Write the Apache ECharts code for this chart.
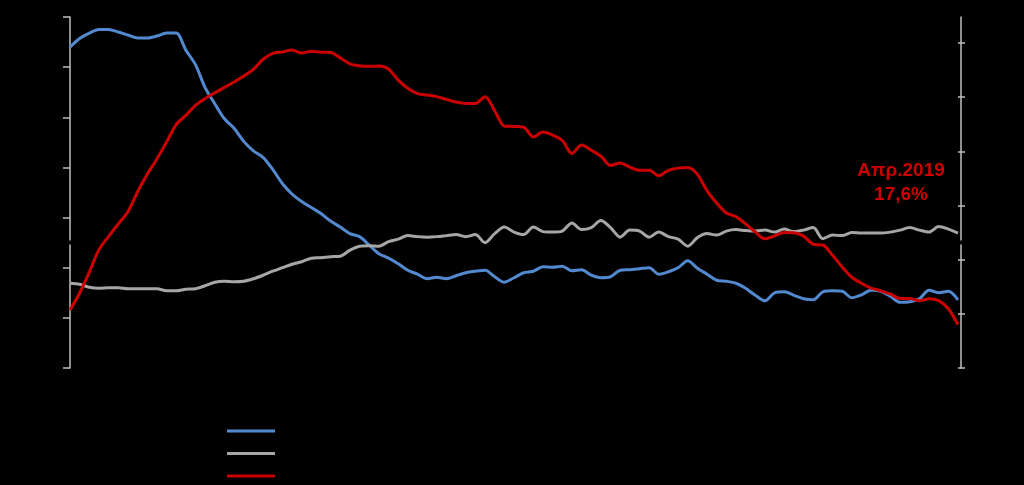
<!DOCTYPE html>
<html>
<head>
<meta charset="utf-8">
<script src="https://cdn.jsdelivr.net/npm/echarts@6/dist/echarts.min.js"></script>
<style>
html,body{margin:0;padding:0;background:#000;}
#chart{width:1024px;height:485px;}
</style>
</head>
<body>
<div id="chart"></div>
<script>
const months = [
 "Αυγ-11","Σεπ-11","Οκτ-11","Νοε-11","Δεκ-11",
 "Ιαν-12","Φεβ-12","Μαρ-12","Απρ-12","Μαϊ-12","Ιουν-12","Ιουλ-12","Αυγ-12","Σεπ-12","Οκτ-12","Νοε-12","Δεκ-12",
 "Ιαν-13","Φεβ-13","Μαρ-13","Απρ-13","Μαϊ-13","Ιουν-13","Ιουλ-13","Αυγ-13","Σεπ-13","Οκτ-13","Νοε-13","Δεκ-13",
 "Ιαν-14","Φεβ-14","Μαρ-14","Απρ-14","Μαϊ-14","Ιουν-14","Ιουλ-14","Αυγ-14","Σεπ-14","Οκτ-14","Νοε-14","Δεκ-14",
 "Ιαν-15","Φεβ-15","Μαρ-15","Απρ-15","Μαϊ-15","Ιουν-15","Ιουλ-15","Αυγ-15","Σεπ-15","Οκτ-15","Νοε-15","Δεκ-15",
 "Ιαν-16","Φεβ-16","Μαρ-16","Απρ-16","Μαϊ-16","Ιουν-16","Ιουλ-16","Αυγ-16","Σεπ-16","Οκτ-16","Νοε-16","Δεκ-16",
 "Ιαν-17","Φεβ-17","Μαρ-17","Απρ-17","Μαϊ-17","Ιουν-17","Ιουλ-17","Αυγ-17","Σεπ-17","Οκτ-17","Νοε-17","Δεκ-17",
 "Ιαν-18","Φεβ-18","Μαρ-18","Απρ-18","Μαϊ-18","Ιουν-18","Ιουλ-18","Αυγ-18","Σεπ-18","Οκτ-18","Νοε-18","Δεκ-18",
 "Ιαν-19","Φεβ-19","Μαρ-19","Απρ-19"
];

// left axis (%)
const blueSeries = [
 64.0,65.7,66.8,67.5,67.5,67.0,66.4,65.8,65.8,66.2,66.8,66.8,63.4,60.5,55.9,52.7,49.7,47.8,45.2,43.3,
 42.0,39.6,36.8,34.7,33.2,32.0,30.8,29.3,28.1,26.8,26.2,24.5,22.8,21.9,20.8,19.5,18.7,17.8,18.1,17.8,
 18.4,19.0,19.3,19.5,18.2,17.1,18.0,19.0,19.3,20.2,20.1,20.3,19.4,19.6,18.5,18.0,18.2,19.5,19.6,19.8,
 20.0,18.7,19.2,20.0,21.4,19.9,18.7,17.5,17.3,16.9,15.9,14.5,13.4,15.0,15.2,14.5,13.8,13.6,15.2,15.4,
 15.3,14.0,14.6,15.5,15.3,14.3,13.1,13.2,13.8,15.5,15.0,15.3,13.6
];
const graySeries = [
 16.9,16.7,16.1,15.9,16.0,16.0,15.8,15.8,15.8,15.8,15.4,15.4,15.7,15.8,16.4,17.1,17.3,17.2,17.3,17.8,
 18.5,19.3,20.0,20.7,21.2,21.9,22.0,22.2,22.3,23.5,24.3,24.4,24.3,25.2,25.7,26.4,26.2,26.1,26.2,26.4,
 26.6,26.2,26.6,25.0,26.8,28.1,27.1,26.6,28.1,27.2,27.1,27.3,28.9,27.6,28.0,29.4,28.0,26.1,27.5,27.3,
 26.1,27.1,26.2,25.7,24.3,26.0,26.8,26.5,27.3,27.6,27.4,27.3,27.5,27.1,27.7,27.2,27.5,28.0,25.8,26.5,
 26.4,27.0,26.9,26.9,26.9,27.1,27.5,28.0,27.5,27.1,28.2,27.7,26.9
];
// right axis (%)
const redSeries = [
 18.14,18.77,19.54,20.37,20.86,21.32,21.77,22.51,23.15,23.72,24.34,24.99,25.33,25.70,25.95,26.16,26.36,26.56,26.78,27.03,
 27.40,27.62,27.67,27.74,27.63,27.70,27.66,27.65,27.45,27.23,27.16,27.14,27.15,27.04,26.63,26.33,26.13,26.08,26.02,25.92,
 25.82,25.77,25.77,26.02,25.50,24.93,24.92,24.89,24.53,24.71,24.60,24.40,23.92,24.23,24.04,23.82,23.48,23.57,23.42,23.30,
 23.30,23.10,23.30,23.38,23.40,23.15,22.54,22.09,21.72,21.59,21.32,21.02,20.77,20.88,21.00,20.99,20.87,20.57,20.54,20.16,
 19.73,19.35,19.13,18.95,18.85,18.73,18.57,18.57,18.48,18.56,18.49,18.19,17.6
];

const seriesNames = [
 "Μερίδιο Α στο σύνολο (%, αριστερός άξονας)",
 "Μερίδιο Β στο σύνολο (%, αριστερός άξονας)",
 "Ποσοστό ανεργίας (%, δεξιός άξονας)"
];
const leftTicks = [0,10,20,30,40,50,60,70];
const rightTicks = [16,18,20,22,24,26,28];
const noteLines = ["Απρ.2019","17,6%"];

const AX = '#bfbfbf';
const hiddenX = (g)=>({type:'category', gridIndex:g, show:false, data:months, boundaryGap:false});
const segY = (g, pos)=>({type:'value', gridIndex:g, position:pos, min:0, max:1,
  axisLine:{show:true, lineStyle:{color:AX, width:1.5}}, axisTick:{show:false}, axisLabel:{show:false}, splitLine:{show:false}});

const chart = echarts.init(document.getElementById('chart'), null, {renderer:'canvas'});
chart.setOption({
  backgroundColor:'#000',
  animation:false,
  grid:[
    {left:70, right:66, top:17, bottom:117},
    {left:70, right:63, top:17, height:223},
    {left:70, right:63, top:245, height:123}
  ],
  legend:{
    orient:'vertical', left:227, top:424, padding:0, itemWidth:48, itemHeight:3, itemGap:8.5, icon:'rect',
    textStyle:{color:'#000', fontSize:13, lineHeight:14, fontFamily:'Liberation Sans'},
    data:seriesNames
  },
  xAxis:[
    {type:'category', gridIndex:0, data:months, boundaryGap:false,
     axisLine:{show:false}, axisTick:{show:false}, splitLine:{show:false},
     axisLabel:{color:'#000', fontSize:14, fontFamily:'Liberation Sans', margin:12,
       interval:(i)=> (i-5)%12===0}},
    hiddenX(1), hiddenX(2)
  ],
  yAxis:[
    {type:'value', gridIndex:0, position:'left', min:0, max:70, interval:10,
     axisLine:{show:false}, axisTick:{show:true, length:7, lineStyle:{color:AX, width:1.5}},
     axisLabel:{color:'#000', fontSize:14, fontFamily:'Liberation Sans', formatter:'{value}%'},
     splitLine:{show:false}},
    {type:'value', gridIndex:0, position:'right', min:16, max:28.96,
     axisLine:{show:false},
     axisTick:{show:true, length:7, lineStyle:{color:AX, width:1.5}, customValues:rightTicks},
     axisLabel:{color:'#000', fontSize:14, fontFamily:'Liberation Sans', formatter:'{value}%', customValues:rightTicks},
     splitLine:{show:false}},
    segY(1,'left'), segY(1,'right'), segY(2,'left'), segY(2,'right')
  ],
  series:[
    {name:seriesNames[0], type:'line', xAxisIndex:0, yAxisIndex:0, data:blueSeries, smooth:0.3,
     showSymbol:false, lineStyle:{color:'#5289cf', width:3}, itemStyle:{color:'#5289cf'}},
    {name:seriesNames[1], type:'line', xAxisIndex:0, yAxisIndex:0, data:graySeries, smooth:0.3,
     showSymbol:false, lineStyle:{color:'#a6a6a6', width:3}, itemStyle:{color:'#a6a6a6'}},
    {name:seriesNames[2], type:'line', xAxisIndex:0, yAxisIndex:1, data:redSeries, smooth:0.3,
     showSymbol:false, lineStyle:{color:'#cc0000', width:3}, itemStyle:{color:'#cc0000'},
     markPoint:{symbol:'circle', symbolSize:0,
       data:[{coord:[months.length-1, redSeries[redSeries.length-1]]}],
       label:{show:true, formatter:noteLines.join('\n'), color:'#cc0000', fontSize:19, fontWeight:'bold',
         fontFamily:'Liberation Sans', lineHeight:24, align:'center', verticalAlign:'middle', offset:[-57,-142]}}}
  ]
});
</script>
</body>
</html>
